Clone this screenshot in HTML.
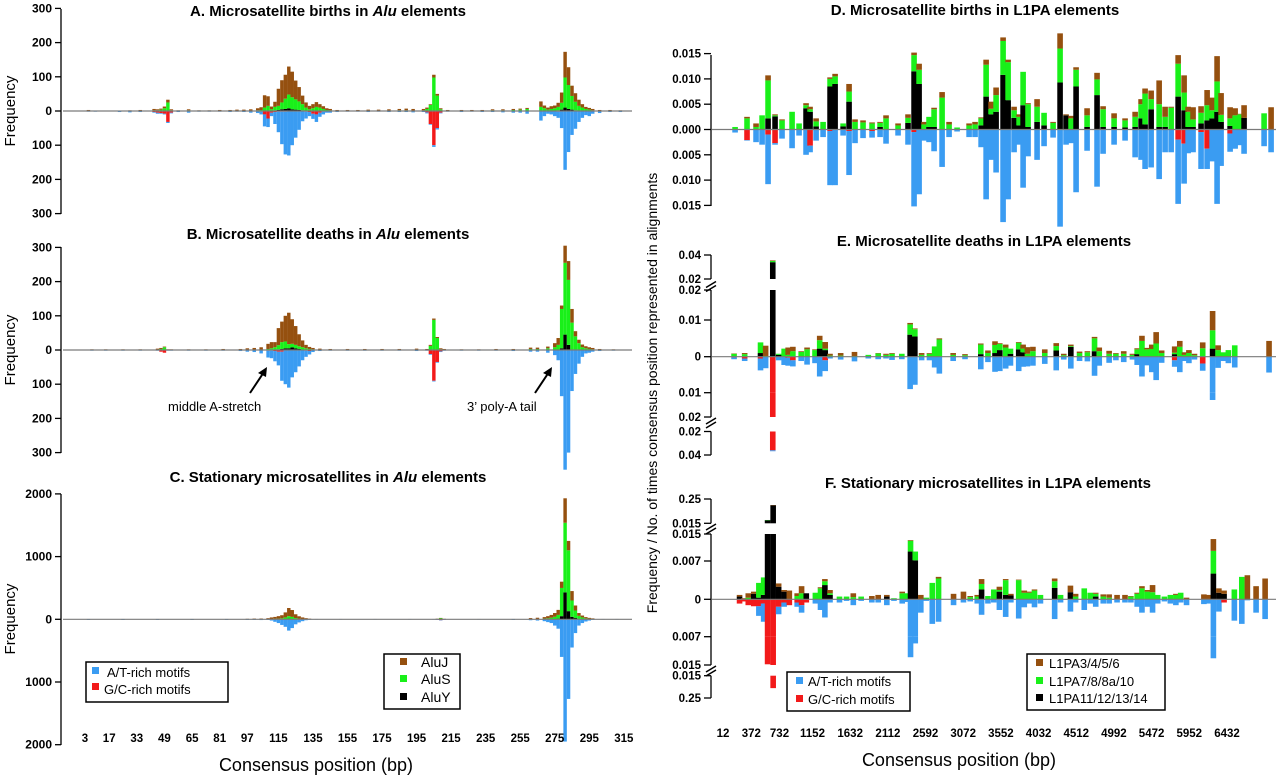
<!DOCTYPE html>
<html><head><meta charset="utf-8"><title>Microsatellite births, deaths and stationary microsatellites</title>
<style>
html,body{margin:0;padding:0;background:#fff;}
svg{display:block;font-family:"Liberation Sans",Arial,sans-serif;}
</style></head>
<body>
<svg id="chart" width="1280" height="777" viewBox="0 0 1280 777" xmlns="http://www.w3.org/2000/svg">
  <g font-weight="bold" font-size="15" text-anchor="middle" fill="#000">
    <text x="328" y="16">A. Microsatellite births in <tspan font-style="italic">Alu</tspan> elements</text>
    <text x="328" y="239">B. Microsatellite deaths in <tspan font-style="italic">Alu</tspan> elements</text>
    <text x="328" y="482">C. Stationary microsatellites in <tspan font-style="italic">Alu</tspan> elements</text>
    <text x="975" y="15">D. Microsatellite births in L1PA elements</text>
    <text x="984" y="246">E. Microsatellite deaths in L1PA elements</text>
    <text x="988" y="488">F. Stationary microsatellites in L1PA elements</text>
  </g>
  <g font-size="15" text-anchor="middle" fill="#000">
    <text transform="translate(15,111) rotate(-90)">Frequency</text>
    <text transform="translate(15,350) rotate(-90)">Frequency</text>
    <text transform="translate(15,619) rotate(-90)">Frequency</text>
    <text font-size="14" transform="translate(657,393) rotate(-90)">Frequency / No. of times consensus position represented in alignments</text>
    <text font-size="18" x="316" y="771">Consensus position (bp)</text>
    <text font-size="18" x="959" y="766">Consensus position (bp)</text>
  </g>
  <g font-size="13" fill="#000">
    <text x="168" y="411">middle A-stretch</text>
    <line x1="250" y1="393" x2="264" y2="372" stroke="#000" stroke-width="2"/>
    <polygon points="267,367 258,373 266,377" fill="#000"/>
    <text x="467" y="411">3’ poly-A tail</text>
    <line x1="535" y1="393" x2="549" y2="372" stroke="#000" stroke-width="2"/>
    <polygon points="552,367 543,373 551,377" fill="#000"/>
  </g>
  <g id="plots"></g>
  <g fill="#000">
    <g font-size="13">
      <rect x="86" y="662" width="142" height="40" fill="#fff" stroke="#000" stroke-width="1.5"/>
      <rect x="92" y="667" width="7" height="7" fill="#3a9cf2"/>
      <text x="107" y="677">A/T-rich motifs</text>
      <rect x="92" y="683" width="7" height="7" fill="#f21a1a"/>
      <text x="104" y="694">G/C-rich motifs</text>
    </g>
    <g font-size="14">
      <rect x="384" y="654" width="76" height="55" fill="#fff" stroke="#000" stroke-width="1.5"/>
      <rect x="400" y="658" width="7" height="7" fill="#95500f"/>
      <text x="421" y="667">AluJ</text>
      <rect x="400" y="675" width="7" height="7" fill="#19f019"/>
      <text x="421" y="684">AluS</text>
      <rect x="400" y="693" width="7" height="7" fill="#000"/>
      <text x="421" y="702">AluY</text>
    </g>
    <g font-size="13">
      <rect x="787" y="672" width="123" height="39" fill="#fff" stroke="#000" stroke-width="1.5"/>
      <rect x="796" y="677" width="7" height="7" fill="#3a9cf2"/>
      <text x="808" y="686">A/T-rich motifs</text>
      <rect x="796" y="695" width="7" height="7" fill="#f21a1a"/>
      <text x="808" y="704">G/C-rich motifs</text>
    </g>
    <g font-size="13">
      <rect x="1027" y="654" width="138" height="56" fill="#fff" stroke="#000" stroke-width="1.5"/>
      <rect x="1036" y="659" width="7" height="7" fill="#95500f"/>
      <text x="1049" y="668">L1PA3/4/5/6</text>
      <rect x="1036" y="677" width="7" height="7" fill="#19f019"/>
      <text x="1049" y="686">L1PA7/8/8a/10</text>
      <rect x="1036" y="694" width="7" height="7" fill="#000"/>
      <text x="1049" y="703">L1PA11/12/13/14</text>
    </g>
  </g>
</svg>
<script>
// ---------- Left (Alu) panels: bp position, component values ----------
const aPos   = [5,9,23,29,35,43,45,47,49,51,53,57,63,69,75,81,87,91,95,99,103,105,107,109,111,113,115,117,119,121,123,125,127,129,131,133,135,137,139,141,143,145,149,155,161,167,173,179,185,189,193,199,201,203,205,207,209,213,221,227,233,239,245,251,255,259,267,269,271,273,275,277,279,281,283,285,287,289,291,293,295,297,301,307,313];
const aBlack = [0,0,0,0,0,0,0,0,0,0,0,0,0,0,0,0,0,0,0,0,0,0,0,0,0,2,3,5,6,8,5,4,3,2,0,0,0,0,0,0,0,0,0,0,0,0,0,0,0,0,0,0,0,0,0,0,0,0,0,0,0,0,0,0,0,0,0,0,0,0,0,2,4,10,6,4,2,0,0,0,0,0,0,0,0];
const aGreen = [0,0,0,0,0,2,2,4,8,25,2,0,2,0,0,0,0,0,0,0,2,3,10,15,5,10,12,20,30,40,35,30,25,18,10,5,8,12,10,6,3,2,0,0,0,0,0,0,2,2,0,2,6,18,98,45,5,0,0,0,0,2,2,3,4,6,12,8,4,6,8,10,20,88,70,40,25,15,10,6,4,2,0,0,0];
const aBrown = [3,0,0,2,3,4,3,3,5,8,3,2,3,2,2,3,3,4,4,5,6,8,36,28,8,15,50,65,70,82,75,55,42,25,15,10,12,14,10,8,5,4,3,3,3,4,4,5,4,5,6,4,4,2,8,5,3,3,3,3,3,3,3,3,3,3,16,8,6,8,8,12,30,75,52,30,25,18,10,6,5,4,3,3,2];
const aRed   = [0,0,0,0,0,3,5,6,8,32,5,0,0,0,0,0,0,0,0,0,0,2,10,22,5,3,2,2,2,0,0,0,0,0,2,3,8,10,5,2,0,0,0,0,0,0,0,0,0,0,0,0,4,38,100,50,5,0,0,0,0,0,0,0,0,0,0,0,0,0,0,2,0,0,0,0,0,0,0,0,0,0,0,0,0];
const aBlue  = [2,2,3,4,3,2,3,2,2,3,2,3,5,2,2,2,3,2,3,5,6,8,35,25,10,35,60,95,125,130,100,78,55,30,20,12,15,22,12,8,5,5,3,2,2,3,2,3,3,3,4,3,3,2,5,4,2,2,3,2,3,3,4,5,5,8,28,15,8,10,15,18,50,172,120,70,52,32,20,12,15,8,6,3,3];

const bPos   = [7,15,25,35,45,47,49,51,53,63,73,83,93,97,101,105,109,111,113,115,117,119,121,123,125,127,129,131,133,135,139,145,155,165,175,185,195,201,203,205,207,209,211,221,231,241,251,261,265,271,275,277,279,281,283,285,287,289,291,293,295,297,301,309];
const bBlack = [0,0,0,0,0,0,0,0,0,0,0,0,0,0,0,0,0,0,0,2,3,5,5,8,5,3,0,0,0,0,0,0,0,0,0,0,0,0,0,0,0,0,0,0,0,0,0,0,0,0,0,0,5,45,15,0,0,0,0,0,0,0,0,0];
const bGreen = [0,0,0,0,0,3,8,0,0,0,0,0,0,0,0,0,3,5,8,12,20,20,12,10,10,8,8,5,3,2,0,0,0,0,0,0,0,0,12,88,35,2,0,0,0,0,0,3,3,5,8,15,115,210,190,80,40,20,8,5,3,2,0,0];
const bBrown = [2,2,2,2,4,3,2,2,2,2,2,3,3,5,6,8,15,18,15,50,60,75,92,72,55,35,20,10,6,4,4,3,3,3,3,3,4,3,3,4,3,3,3,2,2,3,3,4,4,5,12,20,10,50,55,40,15,10,8,6,5,4,3,2];
const bRed   = [0,0,0,0,0,5,8,0,0,0,0,0,0,0,0,0,2,2,3,5,5,0,0,0,0,0,0,2,3,0,0,0,0,0,0,0,0,0,12,90,35,4,0,0,0,0,0,0,0,0,0,0,0,0,0,0,0,0,0,0,0,0,0,0];
const bBlue  = [2,2,2,2,2,0,0,2,2,2,2,2,3,5,6,10,20,22,30,40,85,100,110,80,65,48,30,18,10,6,3,2,2,2,2,2,3,2,2,2,2,2,2,2,2,2,3,5,5,8,15,30,135,350,300,120,70,40,20,10,8,5,3,2];

const cPos   = [5,25,45,65,85,97,101,105,109,111,113,115,117,119,121,123,125,127,129,131,133,137,151,171,191,205,207,209,211,231,251,261,265,269,271,273,275,277,279,281,283,285,287,289,291,293,295,297,303,311];
const cBlack = [0,0,0,0,0,0,0,0,0,0,0,0,0,5,10,8,5,0,0,0,0,0,0,0,0,0,0,0,0,0,0,0,0,0,0,0,0,10,50,430,130,40,20,5,0,0,0,0,0,0];
const cGreen = [0,0,0,0,0,0,2,3,3,5,8,10,15,25,40,30,15,8,5,3,2,0,0,0,0,0,5,20,3,0,0,5,5,10,15,25,40,60,450,1110,970,260,120,50,30,15,8,5,0,0];
const cBrown = [5,5,5,5,5,8,10,10,15,25,30,40,50,80,130,110,60,40,25,15,8,5,5,5,5,5,5,2,5,5,5,15,20,25,35,45,60,80,100,390,150,150,80,45,30,20,15,10,5,5];
const cRed   = [0,0,0,0,0,0,0,0,0,0,0,0,0,0,0,0,0,0,0,0,0,0,0,0,0,0,5,15,3,0,0,0,0,0,0,0,0,0,0,0,0,0,0,0,0,0,0,0,0,0];
const cBlue  = [10,10,10,10,10,10,10,12,10,20,40,60,90,120,180,140,80,50,30,15,8,5,5,5,5,5,5,3,5,5,10,15,20,30,45,60,100,150,600,1950,1270,450,220,100,60,35,20,10,5,5];

const leftTickLabels = ["3","17","33","49","65","81","97","115","135","155","175","195","215","235","255","275","295","315"];
const aTickVals = [300,200,100,0,-100,-200,-300];
const cTickVals = [2000,1000,0,-1000,-2000];

// ---------- Right (L1PA) panels ----------
const dPos   = [166,318,433,510,586,675,764,892,981,1070,1121,1198,1287,1376,1440,1542,1618,1694,1796,1911,2013,2089,2242,2369,2446,2510,2573,2637,2701,2803,2892,2994,3147,3223,3300,3364,3427,3491,3580,3644,3720,3784,3835,3898,4013,4102,4217,4306,4382,4446,4510,4650,4777,4854,4994,5134,5262,5338,5389,5466,5568,5644,5721,5810,5886,5937,6000,6102,6179,6243,6306,6357,6472,6536,6600,6650,6905,6994];
const dBlack = [0,0,0,0,0.0022,0.0026,0,0,0,0.0042,0.0035,0.0006,0,0.0085,0.009,0.0006,0.0055,0,0,0,0.0005,0,0,0.0013,0.0115,0.009,0,0.0005,0.0005,0,0,0,0,0,0.0008,0.0065,0.003,0.0035,0.0108,0.0058,0.0023,0.0008,0.0048,0.0005,0.0015,0.0008,0,0.0093,0.0028,0,0.0085,0.0005,0.0068,0.0005,0.0005,0.0004,0.0005,0.0022,0.001,0.004,0.0005,0.0005,0,0.0065,0.0038,0.0005,0.0005,0.0012,0.0018,0.0022,0.0035,0.0015,0.0007,0,0,0.0023,0,0];
const dGreen = [0.0005,0.0022,0.0005,0.0028,0.0075,0.0002,0.0018,0.0035,0.0012,0.0006,0.0005,0.001,0.0015,0.0015,0.0015,0.0006,0.002,0.0015,0.0014,0.0012,0.0008,0.0022,0.0008,0.001,0.0032,0.0028,0.001,0.002,0.0035,0.0063,0.001,0.0004,0.0008,0.001,0.0014,0.0063,0.0011,0.0033,0.0067,0.0075,0.0015,0.0017,0.0066,0.0045,0.003,0.0025,0.0013,0.0067,0,0.0022,0.0033,0.0023,0.0031,0.0035,0.0017,0.0014,0.002,0.0028,0.0061,0.002,0.0045,0.002,0.0043,0.0065,0.0035,0.003,0.0015,0.0021,0.003,0.0016,0.006,0.0014,0.0015,0.0028,0.003,0,0.0032,0];
const dBrown = [0,0.0003,0.0007,0,0.001,0.0002,0.0002,0,0,0.0004,0.0005,0.0006,0,0.0003,0.0005,0,0.0015,0.0005,0.0004,0.0002,0.0002,0.0006,0.0004,0.0007,0.0005,0.0012,0.0005,0,0.0003,0.0011,0.0005,0,0.0004,0.0005,0.0002,0.001,0.0014,0.0015,0.0007,0.0005,0.0007,0.0005,0,0.0002,0.0015,0,0.0002,0.003,0.0002,0.0005,0.0005,0.0014,0.0013,0.0006,0.001,0.0004,0.001,0.001,0.001,0.0017,0.0047,0.002,0.0002,0.0017,0.0034,0.001,0.0024,0.0013,0.003,0.0025,0.005,0.0043,0.0022,0.0014,0.0001,0.0025,0,0.0044];
const dRed   = [0,0.0021,0,0,0.001,0.0027,0,0,0,0,0.0032,0,0,0.0003,0,0,0.0003,0,0,0.0003,0,0,0,0,0.0005,0,0,0,0,0,0,0,0,0,0,0,0,0,0,0,0,0,0,0,0,0,0,0,0,0,0,0,0,0,0,0,0,0,0,0,0,0,0,0.002,0.0028,0,0,0.0005,0.0038,0,0,0,0.0008,0,0,0,0,0];
const dBlue  = [0.0006,0.0001,0.0025,0.003,0.0098,0.0003,0.0018,0.0037,0.0012,0.005,0.0013,0.0022,0.0015,0.0107,0.011,0.0012,0.0087,0.0027,0.0017,0.0013,0.0015,0.0028,0.0012,0.003,0.0147,0.0128,0.0022,0.0025,0.0043,0.0074,0.0015,0.0004,0.0015,0.0015,0.0035,0.0138,0.006,0.0085,0.0183,0.0138,0.0045,0.003,0.0115,0.0053,0.006,0.0033,0.0016,0.0192,0.003,0.0027,0.0124,0.0042,0.0113,0.0048,0.003,0.0022,0.0055,0.006,0.0078,0.0075,0.0098,0.0045,0.0045,0.0127,0.0079,0.0047,0.0045,0.0073,0.004,0.0063,0.0147,0.0072,0.0036,0.0038,0.0031,0.0048,0.0033,0.0045];

const ePos   = [153,288,490,555,646,721,791,842,902,1008,1083,1184,1244,1314,1375,1511,1687,1863,1989,2089,2165,2290,2396,2456,2542,2642,2708,2768,2944,3095,3296,3387,3477,3538,3613,3674,3779,3835,3890,3960,4111,4257,4353,4443,4554,4654,4745,4805,4931,5017,5117,5228,5288,5349,5414,5474,5530,5600,5766,5831,5892,5947,6018,6123,6249,6319,6385,6450,6531,6968];
const eBlack = [0,0,0.001,0,0.034,0.0005,0,0,0,0,0,0,0.0022,0.0018,0,0,0,0,0,0,0,0,0.006,0.0055,0,0,0,0,0,0,0.0007,0,0.001,0.0018,0,0.0008,0.002,0.0012,0,0,0,0.0017,0,0.0027,0,0,0.0015,0,0,0,0,0,0.0007,0,0,0,0,0,0.0007,0,0,0,0,0,0.0022,0,0,0,0,0];
const eGreen = [0.0008,0.0007,0.0029,0.0002,0.001,0.0003,0.0022,0.0005,0.0015,0.0013,0.002,0.0018,0.0023,0.0004,0.0003,0.0003,0.0002,0.0005,0.0009,0.0005,0.0008,0.0008,0.0028,0.002,0.0005,0.0008,0.0028,0.0047,0.0005,0.0004,0.0026,0.001,0.0022,0.0017,0.0025,0.0014,0.0018,0.001,0.0008,0.0015,0.001,0.0012,0.0004,0.0002,0.001,0.0012,0.0035,0.0015,0.0008,0.0008,0.0008,0.0005,0.0013,0.0043,0.002,0.0021,0.0036,0.001,0.0004,0.0027,0.0005,0.001,0.0004,0.0023,0.005,0.0018,0.0012,0.0018,0.0031,0];
const eBrown = [0.0001,0.0003,0,0.0028,0.0005,0,0,0.002,0.0012,0.0002,0.0005,0.0002,0.0012,0.0018,0.0005,0.0007,0.0011,0,0.0001,0.0003,0.0002,0,0.0004,0.0002,0.0005,0.0002,0,0.0003,0.0005,0.0003,0.0003,0.0007,0.001,0.0002,0.0008,0,0.0002,0.0011,0.0018,0.0012,0.001,0.0008,0.0004,0.0004,0.0004,0.0003,0.0004,0.001,0.0008,0.0002,0.0007,0.0003,0.0003,0.0014,0.0004,0.0012,0.0031,0.0007,0.0017,0.0016,0.0007,0.0008,0.0004,0.0016,0.0058,0.0013,0,0,0,0.0043];
const eRed   = [0.0002,0.0005,0.0005,0,0.036,0,0,0.0003,0.001,0,0,0,0,0.001,0,0,0,0,0,0,0,0,0,0,0,0,0,0,0,0,0,0,0,0,0,0,0,0,0,0,0,0,0,0,0,0,0,0,0,0,0,0,0,0,0,0,0,0,0.001,0,0,0,0,0.0019,0,0,0,0,0,0];
const eBlue  = [0.0005,0.0007,0.0033,0.0032,0.0008,0.001,0.0023,0.0022,0.0017,0.0012,0.0022,0.0018,0.0055,0.003,0.0005,0.0008,0.0013,0.0005,0.0007,0.0005,0.0009,0.0007,0.009,0.0078,0.001,0.001,0.003,0.0047,0.0012,0.0007,0.0035,0.0015,0.0042,0.004,0.0033,0.0025,0.004,0.0028,0.0027,0.0025,0.002,0.0038,0.0008,0.0033,0.0012,0.0013,0.0053,0.0025,0.0017,0.001,0.0015,0.0008,0.0023,0.0055,0.0024,0.0043,0.0065,0.0017,0.0018,0.0043,0.0012,0.0018,0.0008,0.002,0.013,0.0031,0.0012,0.0018,0.003,0.0044];

const fPos   = [223,278,334,404,469,530,580,651,721,791,857,957,1013,1073,1189,1254,1310,1375,1496,1586,1672,1772,1908,1989,2099,2190,2295,2351,2401,2461,2532,2602,2678,2758,2949,3075,3161,3251,3306,3387,3462,3533,3613,3679,3779,3850,3915,3980,4056,4237,4312,4438,4504,4614,4690,4760,4856,4931,5032,5133,5208,5288,5349,5419,5484,5550,5635,5711,5781,5842,5917,6138,6198,6259,6329,6395,6526,6621,6692,6803,6918];
const fBlack = [0.0005,0,0,0.001,0.0003,0.0008,0.045,0.19,0.0023,0.0014,0,0,0,0.0011,0,0,0.0026,0.0008,0,0,0,0,0,0,0.0005,0,0,0,0.0098,0.0072,0,0,0,0,0,0,0,0,0.0018,0,0,0.0014,0.0008,0.0007,0,0,0,0,0,0.0021,0,0.0013,0,0,0,0.0005,0,0,0,0,0,0,0,0,0,0,0,0,0,0,0,0,0,0.0047,0.0012,0.001,0,0,0,0,0];
const fGreen = [0,0,0.0003,0,0.0027,0.0032,0.002,0,0,0,0,0.0006,0.0011,0,0.0012,0.002,0.0007,0.0003,0.0005,0.0005,0.0004,0.0005,0,0,0,0.0002,0.0011,0.0011,0.0032,0.0026,0,0.0003,0.003,0.0038,0,0,0.0004,0.0005,0.001,0.0006,0.0018,0.0003,0.0027,0,0.0035,0.0012,0.0012,0.0016,0.0008,0.0012,0.0008,0,0.0005,0.002,0.0012,0.0005,0.0005,0.0003,0,0,0.0005,0.001,0.002,0.0014,0.0013,0.0008,0.0005,0.0008,0.0008,0.0012,0,0,0,0.0053,0,0,0.0018,0.0041,0,0,0];
const fBrown = [0.0003,0.0002,0.0008,0.0004,0,0,0,0.002,0.0006,0.0003,0.0016,0.0005,0.0013,0,0,0.0002,0.0004,0.0006,0,0,0.0007,0,0.0006,0.0008,0.0003,0,0.0003,0,0.0002,0,0.0008,0,0,0.0003,0.001,0.0014,0.0002,0.0003,0.0009,0,0,0.0006,0.0002,0.0003,0.0001,0.0004,0.0002,0.0002,0,0.0005,0,0.0012,0.0005,0,0,0.0002,0.0004,0.0006,0.0008,0.0008,0.0001,0.0002,0.0004,0.0003,0.0013,0,0,0,0.0002,0,0.0003,0.0009,0.0008,0.0035,0.0008,0.0006,0,0,0.0044,0.0024,0.0038];
const fRed   = [0.0008,0.0004,0.0011,0.0013,0.0013,0.0008,0.0148,0.146,0.0014,0.0006,0.0011,0.0006,0.0011,0.0006,0,0,0,0,0,0,0,0,0,0,0,0,0,0,0,0,0,0,0,0,0,0,0,0,0,0,0,0,0,0,0,0,0,0,0,0,0,0,0,0,0,0,0,0,0,0,0,0,0,0,0,0,0,0,0,0,0,0,0,0,0,0.0006,0,0,0,0,0];
const fBlue  = [0,0,0,0,0.0018,0.0034,0,0,0.0014,0.0008,0,0.0008,0.0014,0,0.0008,0.002,0.0034,0.0006,0.0006,0.0003,0.0011,0.0003,0.0006,0.0006,0.0011,0.0003,0.0008,0.0005,0.0128,0.0089,0.0025,0.0003,0.0046,0.0042,0.0011,0.0006,0.0004,0.0008,0.0029,0.0008,0.0006,0.002,0.0033,0.0006,0.0036,0.0015,0.0008,0.0015,0.0008,0.0037,0.0006,0.0023,0.0006,0.002,0.0008,0.0014,0.0008,0.0008,0.0006,0.0006,0.0006,0.0014,0.0025,0.0014,0.0025,0.0008,0.0004,0.0008,0.0011,0.0006,0.0011,0.0009,0.0008,0.0131,0.0023,0,0.004,0.0046,0.0002,0.0025,0.0037];

const rightTickVals = [12,372,732,1152,1632,2112,2592,3072,3552,4032,4512,4992,5472,5952,6432];
const dTickLabels = ["0.015","0.010","0.005","0.000","0.005","0.010","0.015"];
const dTickVals   = [0.015,0.010,0.005,0,-0.005,-0.010,-0.015];
const eTickLabels = ["0.04","0.02","0.02","0.01","0","0.01","0.02","0.02","0.04"];
const eTickVals   = [0.04,0.02,0.02,0.01,0,-0.01,-0.02,-0.02,-0.04];
const eTickPiece  = [2,2,1,0,0,0,1,2,2];
const fTickLabels = ["0.25","0.015","0.015","0.007","0","0.007","0.015","0.015","0.25"];
const fTickVals   = [0.25,0.015,0.015,0.007,0,-0.007,-0.015,-0.015,-0.25];
const fTickPiece  = [2,2,1,0,0,0,1,2,2];

// ---------- helpers ----------
const NS = "http://www.w3.org/2000/svg";
const root = document.getElementById("plots");
const COL = {black:"#000", green:"#19f019", brown:"#95500f", red:"#f21a1a", blue:"#3a9cf2"};
function el(tag, attrs, parent){ const e=document.createElementNS(NS,tag); for(const k in attrs) e.setAttribute(k,attrs[k]); (parent||root).appendChild(e); return e; }
const xLeft  = bp => 85 + (bp-3)*1.727;
const xRight = bp => 723 + (bp-12)*0.0785;
function lin(v0,v1,y0,y1){ return {v0:v0,v1:v1,y0:y0,y1:y1}; }
function mapPiece(p,v){ return p.y0 + (v-p.v0)/(p.v1-p.v0)*(p.y1-p.y0); }

function stackSeg(g, x, w, a, b, pieces, color, name){
  for(const p of pieces){
    const lo=Math.max(a,p.v0), hi=Math.min(b,p.v1);
    if(hi<=lo) continue;
    const ya=mapPiece(p,lo), yb=mapPiece(p,hi);
    const r=el("rect",{x:x.toFixed(2),y:Math.min(ya,yb).toFixed(2),width:w.toFixed(2),height:Math.max(Math.abs(yb-ya),0.3).toFixed(2),fill:color},g);
    
    
  }
}

function drawPanel(id, xf, bw, up, down, pos, blk, grn, brn, red, blu, x0, x1){
  const g=el("g",{});
  
  
  for(let i=0;i<pos.length;i++){
    const x=xf(pos[i])-bw/2;
    stackSeg(g,x,bw,0,red[i],down,COL.red,'bar-gc-'+id);
    stackSeg(g,x,bw,red[i],red[i]+blu[i],down,COL.blue,'bar-at-'+id);
    stackSeg(g,x,bw,0,blk[i],up,COL.black,'bar-young-'+id);
    stackSeg(g,x,bw,blk[i],blk[i]+grn[i],up,COL.green,'bar-mid-'+id);
    stackSeg(g,x,bw,blk[i]+grn[i],blk[i]+grn[i]+brn[i],up,COL.brown,'bar-old-'+id);
  }
  const zy=up[0].y0;
  const z=el("line",{x1:x0,y1:zy,x2:x1,y2:zy,stroke:"#7a7a7a","stroke-width":1.2},g);
  
  
}

function drawAxis(id, ax, labels, vals, pieceIdx, up, down, segs, fs, tl){
  const g=el("g",{"font-size":fs,"font-weight":"bold","text-anchor":"end",fill:"#000"});
  
  
  for(const s of segs){
    el("line",{x1:ax,y1:s[0],x2:ax,y2:s[1],stroke:"#000","stroke-width":1.3},g);
  }
  for(let i=0;i<vals.length;i++){
    const v=vals[i];
    const pcs = v>=0 ? up : down;
    const p = pcs[pieceIdx ? pieceIdx[i] : 0];
    const y = mapPiece(p, Math.abs(v));
    el("line",{x1:ax-tl,y1:y,x2:ax,y2:y,stroke:"#000","stroke-width":1.3},g);
    const t=el("text",{x:ax-tl-3,y:y+4},g);
    t.textContent=labels[i];
    
    
  }
}
function breakMark(ax,y){
  const b=el("path",{d:`M${ax-5},${y+3} L${ax+5},${y-3}`,stroke:"#000","stroke-width":1.5,fill:"none"});
  
  
}

// ---------- left panels ----------
const aUp=[lin(0,400,111,111-400*0.342)], aDown=[lin(0,400,111,111+400*0.342)];
drawPanel('a',xLeft,3.45,aUp,aDown,aPos,aBlack,aGreen,aBrown,aRed,aBlue,63,632);
drawAxis('a',61,aTickVals.map(v=>String(Math.abs(v))),aTickVals,null,aUp,aDown,[[9,214]],12,6);
const bUp=[lin(0,400,350,350-400*0.342)], bDown=[lin(0,400,350,350+400*0.342)];
drawPanel('b',xLeft,3.45,bUp,bDown,bPos,bBlack,bGreen,bBrown,bRed,bBlue,63,632);
drawAxis('b',61,aTickVals.map(v=>String(Math.abs(v))),aTickVals,null,bUp,bDown,[[247,453]],12,6);
const cUp=[lin(0,2100,619.3,619.3-2100*0.0627)], cDown=[lin(0,2100,619.3,619.3+2100*0.0627)];
drawPanel('c',xLeft,3.45,cUp,cDown,cPos,cBlack,cGreen,cBrown,cRed,cBlue,63,632);
drawAxis('c',61,cTickVals.map(v=>String(Math.abs(v))),cTickVals,null,cUp,cDown,[[494,745]],12,6);

const lx=el("g",{"font-size":11.5,"font-weight":"bold","text-anchor":"middle",fill:"#000"});


leftTickLabels.forEach(s=>{
  const t=el("text",{x:xLeft(+s).toFixed(1),y:742},lx);
  t.textContent=s;
  
  
});

// ---------- right panels ----------
const K=5060;
const dUp=[lin(0,0.02,129.5,129.5-0.02*K)], dDown=[lin(0,0.02,129.5,129.5+0.02*K)];
drawPanel('d',xRight,5.6,dUp,dDown,dPos,dBlack,dGreen,dBrown,dRed,dBlue,712,1276);
drawAxis('d',711,dTickLabels,dTickVals,null,dUp,dDown,[[55,206]],11.5,7);

const eUp=[lin(0,0.01,356.7,320),lin(0.01,0.02,320,290),lin(0.02,0.04,279,255)];
const eDown=[lin(0,0.01,356.7,392.7),lin(0.01,0.02,392.7,417),lin(0.02,0.04,431.5,455)];
drawPanel('e',xRight,5.6,eUp,eDown,ePos,eBlack,eGreen,eBrown,eRed,eBlue,712,1276);
drawAxis('e',711,eTickLabels,eTickVals,eTickPiece,eUp,eDown,[[255,279],[290,417],[431.5,455]],11.5,7);
breakMark(711,284.5); breakMark(711,288.5); breakMark(711,421); breakMark(711,425);

const fUp=[lin(0,0.007,599.3,561),lin(0.007,0.015,561,534),lin(0.015,0.25,523.3,499)];
const fDown=[lin(0,0.007,599.3,636.7),lin(0.007,0.015,636.7,665),lin(0.015,0.25,675.7,698)];
drawPanel('f',xRight,5.6,fUp,fDown,fPos,fBlack,fGreen,fBrown,fRed,fBlue,712,1276);
drawAxis('f',711,fTickLabels,fTickVals,fTickPiece,fUp,fDown,[[499,523.3],[534,665],[675.7,698]],11.5,7);
breakMark(711,527); breakMark(711,531); breakMark(711,669); breakMark(711,673);

const rx=el("g",{"font-size":11.5,"font-weight":"bold","text-anchor":"middle",fill:"#000"});


rightTickVals.forEach(v=>{
  const t=el("text",{x:xRight(v).toFixed(1),y:737},rx);
  t.textContent=String(v);
  
  
});
</script>
</body></html>
